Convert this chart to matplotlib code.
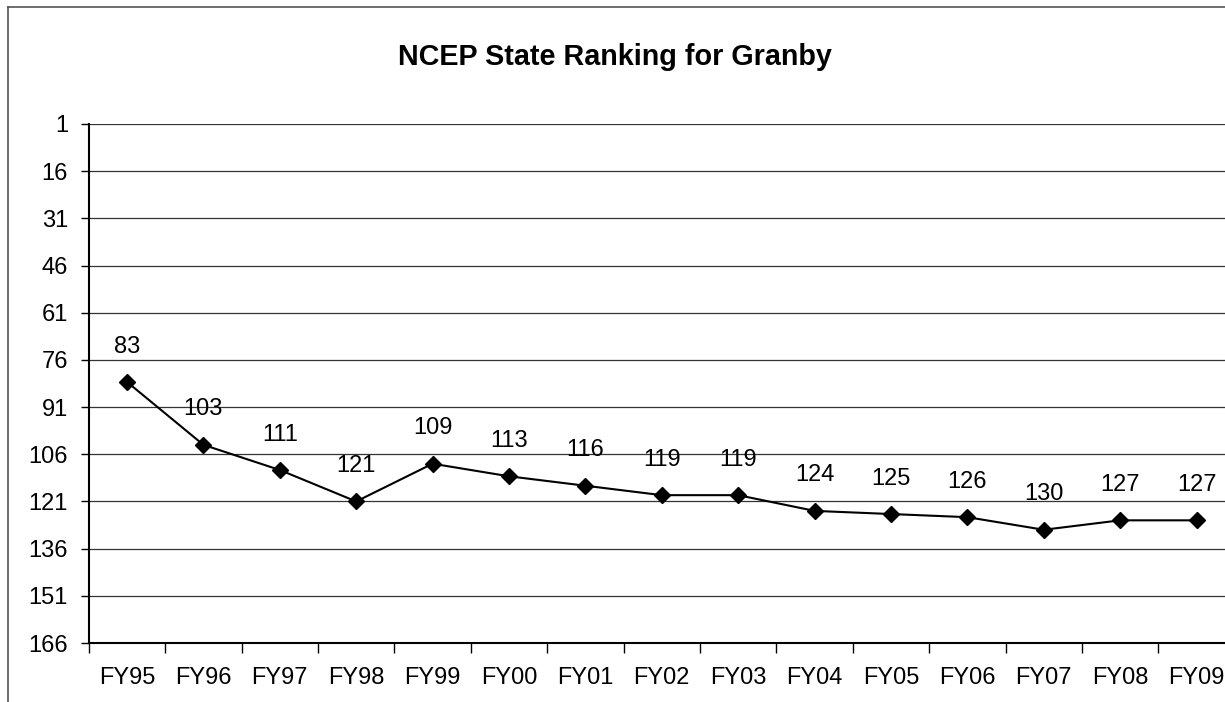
import numpy as np
import matplotlib
matplotlib.use("Agg")
import matplotlib.pyplot as plt
from matplotlib.lines import Line2D

plt.rcParams['font.family'] = ['Liberation Sans', 'DejaVu Sans']

years = ['FY95', 'FY96', 'FY97', 'FY98', 'FY99', 'FY00', 'FY01', 'FY02',
         'FY03', 'FY04', 'FY05', 'FY06', 'FY07', 'FY08', 'FY09']
ranks = [83, 103, 111, 121, 109, 113, 116, 119, 119, 124, 125, 126, 130, 127, 127]
yticks = list(range(1, 167, 15))

W, H = 1225, 702
fig = plt.figure(figsize=(W / 100, H / 100), dpi=100)

# outer chart frame (right/bottom edges fall outside the picture)
fig.add_artist(Line2D([8 / W, 8 / W], [0, 1 - 7 / H], color='#555555', lw=1.2))
fig.add_artist(Line2D([8 / W, 1], [1 - 7 / H, 1 - 7 / H], color='#555555', lw=1.2))

ax = fig.add_axes([88.8 / W, 59 / H, 1146 / W, 519 / H])
x = np.arange(len(years))

ax.plot(x, ranks, color='black', lw=1.5, marker='D', markersize=8.5, zorder=3)
for xi, r in zip(x, ranks):
    ax.annotate(str(r), (xi, r), xytext=(0, 25.5), textcoords='offset points',
                ha='center', va='center', fontsize=17)

ax.set_ylim(166, 1)
ax.set_yticks(yticks)
ax.yaxis.grid(True, color='#333333', lw=0.9)
ax.set_axisbelow(True)

ax.set_xlim(-0.5, len(years) - 0.5)
ax.set_xticks(np.arange(len(years) + 1) - 0.5)
ax.set_xticklabels([])
ax.set_xticks(x, minor=True)
ax.set_xticklabels(years, minor=True)
ax.tick_params(axis='x', which='major', length=7, width=1, direction='out')
ax.tick_params(axis='x', which='minor', length=0, pad=17, labelsize=17)
ax.tick_params(axis='y', length=6, width=1, pad=9, labelsize=17)

for s in ['top', 'right']:
    ax.spines[s].set_visible(False)
for s in ['left', 'bottom']:
    ax.spines[s].set_linewidth(1.5)

fig.text(615 / W, 1 - 57 / H, 'NCEP State Ranking for Granby', ha='center', va='center',
         fontsize=20.7, fontweight='bold')

fig.savefig('out.png', dpi=100)
